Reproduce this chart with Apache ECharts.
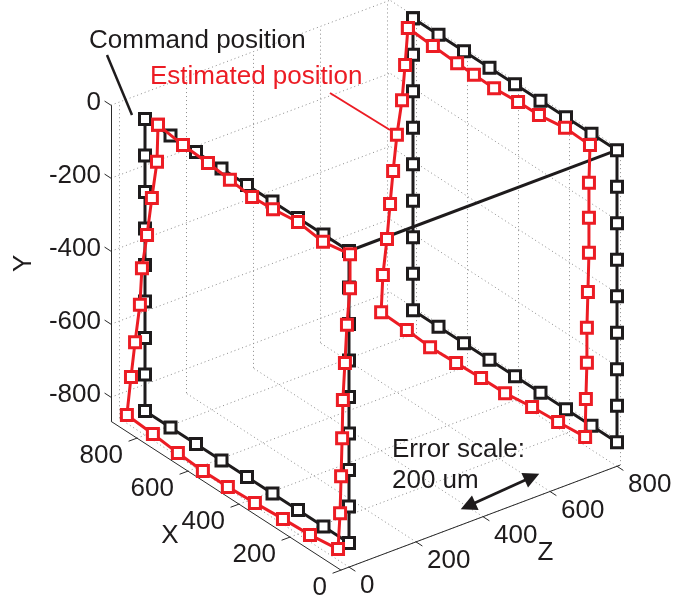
<!DOCTYPE html>
<html><head><meta charset="utf-8">
<script src="https://cdn.jsdelivr.net/npm/echarts@6/dist/echarts.min.js"></script>
<style>html,body{margin:0;padding:0;background:#fff}#c{width:699px;height:605px}</style>
</head><body><div id="c"></div>
<script>
// ---- axis ticks / limits (3D data units) ----
const xTicks = [0, 200, 400, 600, 800];
const yTicks = [0, -200, -400, -600, -800];
const zTicks = [0, 200, 400, 600, 800];
const xLim = [0, 902];
const yLim = [-866, 0];
const zLim = [-24, 809];

// ---- command position (black) ----
const cmdX = [800,700,600,500,400,300,200,100,0, 0,0,0,0,0,0,0,0, 100,200,300,400,500,600,700,800, 800,800,800,800,800,800,800,800];
const cmdY = [0,0,0,0,0,0,0,0,0, -100,-200,-300,-400,-500,-600,-700,-800, -800,-800,-800,-800,-800,-800,-800,-800, -700,-600,-500,-400,-300,-200,-100,0];
const cmdLeftZ = 0;
const cmdRightZ = 800;
const linkX = [0, 0];
const linkY = [0, 0];
const linkZ = [0, 800];

// ---- estimated position (red) ----
const estLeftX = [749,651,553,467,380,298,200,102,-4, -4,8,16,24,27,31,35,43, 153,259,369,475,573,671,769,871, 855,839,820,812,792,773,753,749];
const estLeftY = [7,-4,-9,-16,-24,-20,-11,-21,-7, -100,-206,-314,-419,-525,-631,-734,-836, -847,-851,-857,-861,-862,-857,-849,-843, -732,-629,-518,-414,-314,-204,-96,7];
const estLeftZ = 0;
const estRightX = [820,722,627,561,482,388,306,204,106, 110,110,110,114,118,118,122,125, 231,333,439,533,631,733,824,925, 918,902,890,878,863,843,831,820];
const estRightY = [-36,-41,-45,-47,-48,-43,-42,-31,-34, -139,-235,-331,-440,-540,-636,-737,-842, -849,-854,-864,-865,-868,-871,-865,-862, -757,-651,-550,-454,-348,-244,-142,-36];
const estRightZ = 800;

// ---- view (orthographic projection onto the 2D plotting plane) ----
const O = [349, 251];
const ex = [-0.255, -0.165];
const ey = [0, -0.365];
const ez = [0.335, -0.126];
function P(x, y, z) {
  return [O[0] + x*ex[0] + y*ey[0] + z*ez[0], O[1] + x*ex[1] + y*ey[1] + z*ez[1]];
}

const BLACK = '#1e1b1c', RED = '#ec1c24', FONT = 'Liberation Sans, Arial, Helvetica, sans-serif';

function pathSeries(xs, ys, z, color, zlevel) {
  return {
    type: 'line', data: xs.map((x, i) => P(x, ys[i], z)),
    symbol: 'rect', symbolSize: 11, showSymbol: true, showAllSymbol: true,
    lineStyle: { color: color, width: 3 },
    itemStyle: { color: '#fff', borderColor: color, borderWidth: 3, opacity: 1 },
    z: zlevel, silent: true, clip: false
  };
}

const gridSegs = [];
yTicks.forEach(y => gridSegs.push([P(xLim[1], y, zLim[0]), P(xLim[1], y, zLim[1])]));
zTicks.forEach(z => gridSegs.push([P(xLim[1], yLim[0], z), P(xLim[1], yLim[1], z)]));
yTicks.forEach(y => gridSegs.push([P(xLim[0], y, zLim[1]), P(xLim[1], y, zLim[1])]));
xTicks.forEach(x => gridSegs.push([P(x, yLim[0], zLim[1]), P(x, yLim[1], zLim[1])]));
xTicks.forEach(x => gridSegs.push([P(x, yLim[0], zLim[0]), P(x, yLim[0], zLim[1])]));
zTicks.forEach(z => gridSegs.push([P(xLim[0], yLim[0], z), P(xLim[1], yLim[0], z)]));

const axisSegs = [
  [P(xLim[0], yLim[0], zLim[0]), P(xLim[1], yLim[0], zLim[0])],
  [P(xLim[0], yLim[0], zLim[0]), P(xLim[0], yLim[0], zLim[1])],
  [P(xLim[1], yLim[0], zLim[0]), P(xLim[1], yLim[1], zLim[0])]
];
const TL = 25;
yTicks.forEach(y => axisSegs.push([P(xLim[1], y, zLim[0]), P(xLim[1] + TL, y, zLim[0])]));
xTicks.forEach(x => axisSegs.push([P(x, yLim[0], zLim[0]), P(x, yLim[0], zLim[0] - TL)]));
zTicks.forEach(z => axisSegs.push([P(xLim[0], yLim[0], z), P(xLim[0] - TL, yLim[0], z)]));

function lab(pt, dx, dy, text, align, extra) {
  return { value: [pt[0] + dx, pt[1] + dy],
    label: Object.assign({ show: true, position: 'inside', formatter: text, align: align, verticalAlign: 'middle',
      fontSize: 26, fontFamily: FONT, color: BLACK, opacity: 1 }, extra || {}) };
}
const labels = [];
yTicks.forEach(y => labels.push(lab(P(xLim[1], y, zLim[0]), -10, -2, String(y), 'right')));
xTicks.forEach(x => labels.push(lab(P(x, yLim[0], zLim[0]), -14, 18, String(x), 'right')));
zTicks.forEach(z => labels.push(lab(P(xLim[0], yLim[0], z), 11, 19, String(z), 'left')));
labels.push(lab(P(451, yLim[0], zLim[0]), -56, 40, 'X', 'center'));
labels.push(lab(P(0, yLim[0], 392), 65, 35, 'Z', 'center'));
labels.push(lab(P(xLim[1], -433, zLim[0]), -87, 0, 'Y', 'center', { rotate: 90 }));
// annotations (plot-plane positions)
labels.push(lab([89, 41], 0, 0, 'Command position', 'left'));
labels.push(lab([150, 77], 0, 0, 'Estimated position', 'left', { color: RED }));
labels.push(lab([392, 450], 0, 0, 'Error scale:', 'left'));
labels.push(lab([392, 481], 0, 0, '200 um', 'left'));

const chart = echarts.init(document.getElementById('c'), null, { renderer: 'canvas' });
chart.setOption({
  animation: false,
  backgroundColor: '#fff',
  grid: { left: 0, right: 0, top: 0, bottom: 0 },
  xAxis: { type: 'value', min: 0, max: 699, show: false },
  yAxis: { type: 'value', min: 0, max: 605, inverse: true, show: false },
  series: [
    { type: 'lines', coordinateSystem: 'cartesian2d', silent: true, z: 1,
      lineStyle: { color: '#8c8c8c', width: 1, type: [1, 3], opacity: 1 },
      data: gridSegs.map(s => ({ coords: s })) },
    { type: 'lines', coordinateSystem: 'cartesian2d', silent: true, z: 2,
      lineStyle: { color: '#2a2a2a', width: 1, opacity: 1 },
      data: axisSegs.map(s => ({ coords: s })) },
    { type: 'line', data: linkX.map((x, i) => P(x, linkY[i], linkZ[i])), symbol: 'none',
      lineStyle: { color: BLACK, width: 3 }, z: 3, silent: true, clip: false },
    pathSeries(cmdX, cmdY, cmdLeftZ, BLACK, 4),
    pathSeries(cmdX, cmdY, cmdRightZ, BLACK, 4),
    pathSeries(estLeftX, estLeftY, estLeftZ, RED, 5),
    pathSeries(estRightX, estRightY, estRightZ, RED, 5),
    { type: 'lines', coordinateSystem: 'cartesian2d', silent: true, z: 6,
      lineStyle: { color: BLACK, width: 2.5, opacity: 1 },
      data: [{ coords: [[107, 55], [132, 115]] }] },
    { type: 'lines', coordinateSystem: 'cartesian2d', silent: true, z: 6,
      lineStyle: { color: RED, width: 2, opacity: 1 },
      data: [{ coords: [[330, 93], [390, 130]] }] },
    { type: 'lines', coordinateSystem: 'cartesian2d', silent: true, z: 6,
      symbol: ['triangle', 'triangle'], symbolSize: 16,
      lineStyle: { color: BLACK, width: 3, opacity: 1 },
      data: [{ coords: [[468, 506], [532, 477]] }] },
    { type: 'scatter', symbolSize: 0, silent: true, z: 7, itemStyle: { opacity: 1 }, data: labels }
  ]
});
</script></body></html>
